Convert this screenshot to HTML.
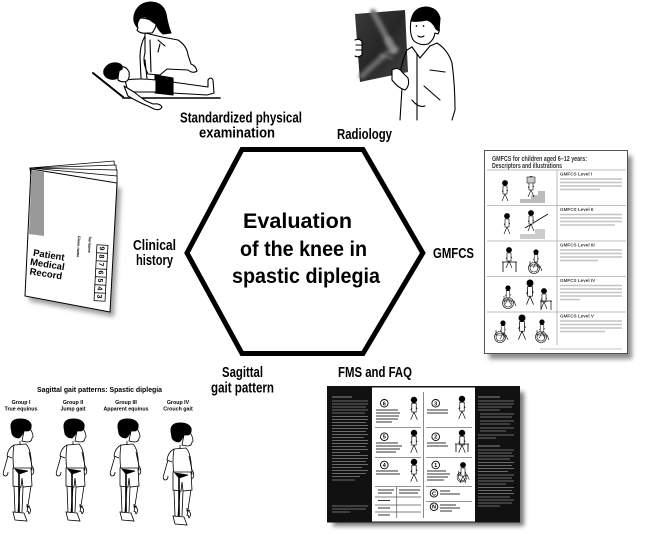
<!DOCTYPE html>
<html><head><meta charset="utf-8"><style>
html,body{margin:0;padding:0;background:#fff;}
svg{display:block}
text{font-family:"Liberation Sans Narrow","Liberation Sans",Arial,sans-serif;font-weight:bold;fill:#000;}
.t{font-family:"Liberation Sans",Arial,sans-serif;}
</style></head><body>
<svg width="647" height="534" viewBox="0 0 647 534" xmlns="http://www.w3.org/2000/svg">
<defs>
<filter id="sh" x="-20%" y="-20%" width="140%" height="140%"><feGaussianBlur stdDeviation="2.5"/></filter>
<filter id="bl" x="-20%" y="-20%" width="140%" height="140%"><feGaussianBlur stdDeviation="1.5"/></filter>
<linearGradient id="xr" x1="0" y1="0" x2="1" y2="1">
<stop offset="0" stop-color="#3a3a3a"/><stop offset="0.5" stop-color="#262626"/><stop offset="1" stop-color="#444"/>
</linearGradient>
<g id="boy" fill="none" stroke="#000" stroke-width="0.8">
<path d="M24,431 Q29,428 31,430 Q33,434 33,437 L32,438 Q32,442 27,442 L22,441 Z" fill="#fff"/>
<path d="M11,428 Q10,420 18,419 Q28,418 31,424 Q32,430 28,431 L24,431 Q22,436 19,438 Q14,438 12,434 Z" fill="#000"/>
<path d="M20,441 L20,445"/>
<path d="M14,445 L26,444 Q30,448 31,458 L32,470 L14,470 Q12,458 14,445 Z" fill="#fff"/>
<path d="M14,445 Q8,448 7,456 L12,458"/>
<path d="M8,456 L4,470 Q2,475 5,476 Q8,476 8,472"/>
<path d="M29,452 L32,466 Q35,470 33,474 Q31,475 30,471"/>
<path d="M13,468 L31,468 L32,486 L23,487 L22,478 L21,487 L13,486 Z" fill="#fff"/>
<polygon points="15,469 28,471 19,474" fill="#000"/>
<path d="M14,486 L15,512 M20,487 L18,512 M23,487 L22,512 M31,486 L27,512"/>
<path d="M19,471 L19,512" stroke-width="1.6"/>
<path d="M13,512 L15,520 L27,521 L24,513 Z" fill="#fff"/>
<path d="M27,506 Q33,509 29,514 M27,504 L27,507 L30,506 M29,514 L28,511"/>
</g>
<g id="kid" fill="none" stroke="#000" stroke-width="0.6">
<circle cx="0" cy="0" r="2.6" fill="#000"/>
<path d="M0,2.5 L0,11 M0,4 L-3,9 M0,4 L3,8 M0,11 L-3,18 M0,11 L3,18" />
<path d="M-2,3 L2,3 L2,11 L-2,11 Z" fill="#fff"/>
</g>
<g id="wc" fill="none" stroke="#000" stroke-width="0.6">
<circle cx="0" cy="0" r="5.5"/><circle cx="0" cy="0" r="4"/>
<path d="M-4,-7 L-4,-2 L6,-2 L8,3"/>
</g>
</defs>

<!-- ===== Hexagon ===== -->
<polygon points="242,149.5 363,149.5 422.8,253 363,353.5 242,353.5 187,253" fill="#fff" stroke="#000" stroke-width="5" stroke-linejoin="miter"/>
<text x="243" y="228" font-size="21" textLength="109" lengthAdjust="spacingAndGlyphs">Evaluation</text>
<text x="240" y="256" font-size="21" textLength="127" lengthAdjust="spacingAndGlyphs">of the knee in</text>
<text x="232" y="283" font-size="21" textLength="148" lengthAdjust="spacingAndGlyphs">spastic diplegia</text>

<!-- ===== Labels ===== -->
<text x="180" y="122.5" font-size="14.5" textLength="122" lengthAdjust="spacingAndGlyphs">Standardized physical</text>
<text x="199" y="137.5" font-size="14.5" textLength="76" lengthAdjust="spacingAndGlyphs">examination</text>
<text x="337" y="139" font-size="14.5" textLength="55" lengthAdjust="spacingAndGlyphs">Radiology</text>
<text x="133" y="250" font-size="14.5" textLength="43" lengthAdjust="spacingAndGlyphs">Clinical</text>
<text x="136" y="265" font-size="14.5" textLength="37" lengthAdjust="spacingAndGlyphs">history</text>
<text x="433" y="258" font-size="14.5" textLength="41" lengthAdjust="spacingAndGlyphs">GMFCS</text>
<text x="222" y="377" font-size="14.5" textLength="41" lengthAdjust="spacingAndGlyphs">Sagittal</text>
<text x="211" y="392.5" font-size="14.5" textLength="63" lengthAdjust="spacingAndGlyphs">gait pattern</text>
<text x="338" y="377" font-size="14.5" textLength="74" lengthAdjust="spacingAndGlyphs">FMS and FAQ</text>

<!-- ===== Physical exam illustration ===== -->
<g fill="none" stroke="#000" stroke-width="1.1" stroke-linejoin="round" stroke-linecap="round">
<path d="M93,73 L123,97" stroke-width="2"/>
<path d="M123,98 L220,98" stroke-width="1.6"/>
<path d="M145,33 L162,37 L178,40 Q187,46 188,55 L191,64 Q196,66 197,71 Q193,74 188,70 L167,69 L160,75 L148,74 Q142,62 145,53 Z" fill="#fff"/>
<path d="M145,36 Q140,45 140,57 L141,78 Q139,84 143,88 Q148,89 150,85 L147,79 L145,60"/>
<path d="M150,40 L151,72 M158,40 L165,46 M160,44 L158,52"/>
<path d="M140,18 Q136,24 138,28 L137,30 Q140,34 147,33 L152,33 Q156,28 156,24 Q150,18 140,18 Z" fill="#fff"/>
<path d="M134,16 Q137,3 150,2 Q163,2 166,14 Q168,26 171,33 L163,34 Q158,30 156,24 L150,20 Q145,15 140,18 Q137,22 137,27 Q133,22 134,16 Z" fill="#000"/>
<path d="M172,82 L208,87 L208,80 Q211,76 213,80 L214,93 L207,95 L172,93" fill="#fff"/>
<path d="M155,75 L173,78 L173,95 L155,93 Z" fill="#000"/>
<path d="M125,80 Q140,78 156,80 L156,92 Q140,92 128,92 Z" fill="#fff"/>
<path d="M124,86 L134,92 Q140,97 146,101 L153,104 Q160,103 162,107 Q160,111 154,109 L148,106 Q138,102 128,96 Z" fill="#fff"/>
<path d="M118,67 Q126,65 129,72 Q130,78 127,81 Q122,83 118,80 Z" fill="#fff"/>
<path d="M104,70 Q108,62 117,63 Q123,64 122,69 L119,71 L118,78 Q112,81 106,77 Q103,74 104,70 Z" fill="#000"/>
</g>

<!-- ===== Radiology illustration ===== -->
<g>
<polygon points="355,14 405,10 408,72 360,82" fill="url(#xr)"/>
<g filter="url(#bl)" fill="none" stroke-linecap="round">
<path d="M373,12 Q380,25 388,40" stroke="#707070" stroke-width="6"/>
<path d="M388,40 Q392,48 394,50" stroke="#858585" stroke-width="8"/>
<path d="M384,56 Q372,66 362,76" stroke="#666" stroke-width="6"/>
<path d="M386,52 Q393,54 398,48" stroke="#999" stroke-width="1.5"/>
<path d="M380,55 L392,58" stroke="#8a8a8a" stroke-width="1.5"/>
</g>
<g fill="none" stroke="#000" stroke-width="1.1" stroke-linejoin="round" stroke-linecap="round">
<path d="M355,40 Q360,38 362,42 L362,55 Q358,58 355,56" fill="#fff"/>
<path d="M356,45 L361,45 M356,50 L361,50"/>
<path d="M407,50 L412,47 L420,52 L430,46 L437,43 Q448,50 452,63 Q455,85 455,110 L452,120 M407,50 Q402,60 400,75 M402,88 L400,120 M417,53 L417,120 M430,70 L445,72 M424,86 L440,100 M412,100 Q418,108 425,106"/>
<path d="M412,47 L420,58 L430,46" fill="#fff"/>
<path d="M392,70 Q398,66 402,72 L408,78 Q410,86 405,90 Q398,88 392,80 Z" fill="#fff"/>
<path d="M411,20 Q409,35 414,41 Q420,46 428,44 Q434,40 435,33 L438,34 Q441,29 437,26 L437,20 Z" fill="#fff"/>
<path d="M411,21 Q413,8 425,7 Q437,7 440,18 L439,31 L436,29 Q433,22 427,20 Q418,22 411,21 Z" fill="#000"/>
<path d="M418,36 Q421,38 424,36"/>
</g>
<circle cx="416.5" cy="26" r="0.9"/><circle cx="423.5" cy="26" r="0.9"/>
</g>

<!-- ===== Patient record booklet ===== -->
<polygon points="35,174 121,188 114,317 29,301" fill="#777" filter="url(#sh)" opacity="0.7"/>
<g fill="#fff" stroke="#000" stroke-width="0.8">
<polygon points="30,168 114,161 116,186 31,175"/>
<polygon points="30,168 116,165 117,186 31,175"/>
<polygon points="30,168 117,170 117,186 31,175"/>
<polygon points="30,168 117,176 117,186 31,175"/>
<polygon points="31,169 117,183 110,312 25,296" stroke-width="1"/>
</g>
<polygon points="31.5,170 44,172 44,236 29,234" fill="#999"/>
<g transform="rotate(9,47,267)">
<text x="47" y="258" font-size="9.5" text-anchor="middle">Patient</text>
<text x="47" y="267.5" font-size="9.5" text-anchor="middle">Medical</text>
<text x="47" y="277" font-size="9.5" text-anchor="middle">Record</text>
</g>
<g transform="rotate(93,82,252)">
<text x="66" y="246" font-size="3.8">Surname</text>
<text x="66" y="257" font-size="3.8">Given name</text>
</g>
<g transform="rotate(3,101,273)">
<rect x="95.5" y="245" width="11" height="56" fill="#fff" stroke="#000" stroke-width="0.8"/>
<path d="M95.5,253 H106.5 M95.5,261 H106.5 M95.5,269 H106.5 M95.5,277 H106.5 M95.5,285 H106.5 M95.5,293 H106.5" stroke="#000" stroke-width="0.8"/>
<g font-size="7">
<text transform="translate(98.5,246.5) rotate(90)">9</text>
<text transform="translate(98.5,254.5) rotate(90)">8</text>
<text transform="translate(98.5,262.5) rotate(90)">7</text>
<text transform="translate(98.5,270.5) rotate(90)">6</text>
<text transform="translate(98.5,278.5) rotate(90)">5</text>
<text transform="translate(98.5,286.5) rotate(90)">4</text>
<text transform="translate(98.5,294.5) rotate(90)">3</text>
</g>
</g>

<!-- ===== GMFCS document ===== -->
<rect x="489" y="156" width="143" height="203" fill="#666" filter="url(#sh)" opacity="0.75"/>
<rect x="484.5" y="150.5" width="143" height="203" fill="#fff" stroke="#444" stroke-width="0.9"/>
<text class="t" x="492" y="161" font-size="7" textLength="95" lengthAdjust="spacingAndGlyphs" style="fill:#333">GMFCS for children aged 6–12 years:</text>
<text class="t" x="492" y="168" font-size="7" textLength="70" lengthAdjust="spacingAndGlyphs" style="fill:#333">Descriptors and illustrations</text>
<g stroke="#aaa" stroke-width="0.8">
<path d="M487,170 H626 M487,205.5 H626 M487,241 H626 M487,276.5 H626 M487,312 H626 M557,170 V345"/>
</g>
<text class="t" x="560" y="175.5" font-size="4.6" style="fill:#444">GMFCS Level I</text>
<text class="t" x="560" y="211" font-size="4.6" style="fill:#444">GMFCS Level II</text>
<text class="t" x="560" y="246.5" font-size="4.6" style="fill:#444">GMFCS Level III</text>
<text class="t" x="560" y="282" font-size="4.6" style="fill:#444">GMFCS Level IV</text>
<text class="t" x="560" y="317.5" font-size="4.6" style="fill:#444">GMFCS Level V</text>
<g stroke="#c4c4c4" stroke-width="1.5">
<path d="M560,179 H622 M560,182.5 H622 M560,186 H622 M560,189.5 H600"/>
<path d="M560,214.5 H622 M560,218 H622 M560,221.5 H622 M560,225 H615"/>
<path d="M560,250 H622 M560,253.5 H622 M560,257 H622 M560,260.5 H598"/>
<path d="M560,285.5 H622 M560,289 H622 M560,292.5 H622 M560,296 H622 M560,299.5 H580"/>
<path d="M560,321 H622 M560,324.5 H622 M560,328 H622 M560,331.5 H605"/>
<path d="M540,349 H622" stroke-width="1"/>
</g>
<g>
<polygon points="520,203 545,203 545,191 538,191 538,195 531,195 531,199 520,199" fill="#bbb"/>
<use href="#kid" transform="translate(505,183)"/>
<use href="#kid" transform="translate(531,179)"/>
<rect x="527" y="177" width="8" height="6" fill="#ccc" stroke="#000" stroke-width="0.5"/>
<polygon points="520,239 545,239 545,229 535,229 535,234 520,234" fill="#ccc"/>
<path d="M525,228 L548,214" stroke="#000" stroke-width="0.8"/>
<use href="#kid" transform="translate(507,216)"/>
<use href="#kid" transform="translate(531,213)"/>
<use href="#kid" transform="translate(509,250)"/>
<path d="M502,262 H517 M503,262 V272 M516,262 V272" stroke="#000" stroke-width="0.8"/>
<use href="#wc" transform="translate(534,268)"/>
<use href="#kid" transform="translate(536,252) scale(0.9)"/>
<use href="#wc" transform="translate(508,303)"/>
<use href="#kid" transform="translate(508,288) scale(0.9)"/>
<use href="#kid" transform="translate(530,283) scale(1.2)"/>
<use href="#kid" transform="translate(544,291)"/>
<path d="M540,301 H552 M541,301 V310 M551,301 V310" stroke="#000" stroke-width="0.7"/>
<use href="#wc" transform="translate(500,337)"/>
<use href="#kid" transform="translate(503,323) scale(0.9)"/>
<use href="#kid" transform="translate(522,318) scale(1.2)"/>
<use href="#wc" transform="translate(541,337)"/>
<use href="#kid" transform="translate(542,322) scale(0.9)"/>
</g>

<!-- ===== FMS document ===== -->
<rect x="333" y="392" width="191" height="134" fill="#555" filter="url(#sh)" opacity="0.8"/>
<rect x="327" y="386" width="193" height="136.5" fill="#111"/>
<rect x="372" y="387.5" width="103" height="134" fill="#fff"/>
<g stroke="#6a6a6a" stroke-width="1">
<path d="M332,397 H352" stroke="#888"/>
<path d="M332,401 H368 M332,404 H368 M332,407 H366 M332,410 H368 M332,413 H365 M332,416.5 H368 M332,419.5 H368 M332,422.5 H366 M332,425.5 H368 M332,428.5 H368 M332,431.5 H366 M332,434.5 H368 M332,437.5 H364 M332,440.5 H368 M332,443.5 H368 M332,446.5 H366 M332,449.5 H368 M332,452.5 H360 M332,455.5 H368 M332,458.5 H368 M332,461.5 H366 M332,464.5 H368 M332,467.5 H362 M332,470.5 H368 M332,473.5 H366 M332,476.5 H360 M332,480 H355"/>
<path d="M332,506 H368 M332,509 H366 M332,512 H350"/>
<path d="M478,397 H500" stroke="#888"/>
<path d="M478,401 H514 M478,404 H514 M478,407 H512 M478,410 H500 M480,414 H514 M480,417 H512 M480,421 H514 M480,424 H510 M480,428 H514 M480,431 H506 M478,435 H514 M478,438 H496"/>
<path d="M478,446 H500" stroke="#888"/>
<path d="M478,450 H514 M478,453 H512 M478,456 H514 M478,459 H510 M478,462.5 H514 M478,465.5 H512 M478,468.5 H514 M478,471.5 H508 M478,475 H514 M478,478 H512 M478,481 H514 M478,484 H506 M478,487.5 H514 M478,490.5 H512 M478,493.5 H514 M478,497 H510 M478,500 H514 M478,503 H512 M478,506 H500"/>
</g>
<g stroke="#555" stroke-width="0.7" fill="none">
<path d="M423.5,392 V518"/>
<path d="M375,427.3 H421 M375,457.3 H421 M375,486.7 H421 M426,427.3 H472 M426,457.3 H472 M426,486.7 H472 M426,501.7 H472"/>
<path d="M396.7,487 V518 M375,497 H421 M375,505 H421 M375,512 H421"/>
</g>
<g stroke="#000" stroke-width="0.9" fill="#fff">
<circle cx="384.3" cy="403.3" r="3.8"/><circle cx="384.3" cy="436.7" r="3.8"/><circle cx="384.3" cy="465" r="3.8"/>
<circle cx="435.7" cy="403.3" r="3.8"/><circle cx="435.7" cy="436.7" r="3.8"/><circle cx="435.7" cy="465" r="3.8"/>
<circle cx="434" cy="493.3" r="3.8"/><circle cx="434" cy="506.7" r="3.8"/>
</g>
<text class="t" x="384.3" y="405.3" font-size="5.5" text-anchor="middle">6</text>
<text class="t" x="384.3" y="438.7" font-size="5.5" text-anchor="middle">5</text>
<text class="t" x="384.3" y="467" font-size="5.5" text-anchor="middle">4</text>
<text class="t" x="435.7" y="405.3" font-size="5.5" text-anchor="middle">3</text>
<text class="t" x="435.7" y="438.7" font-size="5.5" text-anchor="middle">2</text>
<text class="t" x="435.7" y="467" font-size="5.5" text-anchor="middle">1</text>
<text class="t" x="434" y="495.3" font-size="5.5" text-anchor="middle">C</text>
<text class="t" x="434" y="508.7" font-size="5.5" text-anchor="middle">N</text>
<g stroke="#333" stroke-width="0.9">
<path d="M376,410 H398 M376,413 H400 M376,416 H399 M376,419 H398 M376,422 H392"/>
<path d="M376,443 H398 M376,446 H402 M376,449 H400 M376,452 H396"/>
<path d="M376,471 H398 M376,474 H400"/>
<path d="M427,410 H448 M427,413 H448"/>
<path d="M427,443 H446 M427,446 H448"/>
<path d="M427,471 H446 M427,474 H450 M427,477 H448 M427,480 H444"/>
<path d="M440,491 H450 M440,494 H460"/>
<path d="M440,505 H456 M440,508 H460 M440,511 H452"/>
<path d="M378,490 H394 M378,493 H392 M399,490 H420 M399,493 H418"/>
<path d="M378,500.5 H390 M378,508 H390 M378,515 H390"/>
</g>
<g>
<use href="#kid" transform="translate(414,400) scale(1.1)"/>
<use href="#kid" transform="translate(414,433) scale(1.1)"/>
<use href="#kid" transform="translate(414,462) scale(1.1)"/>
<use href="#kid" transform="translate(462,399) scale(1.1)"/>
<use href="#kid" transform="translate(462,433) scale(1.1)"/>
<path d="M455,444 H469 M456,444 V452 M468,444 V452" stroke="#000" stroke-width="0.8"/>
<use href="#wc" transform="translate(462,477) scale(0.9)"/>
<use href="#kid" transform="translate(463,465)"/>
</g>

<!-- ===== Gait patterns ===== -->
<text x="37" y="392" font-size="7.2" textLength="125" lengthAdjust="spacingAndGlyphs">Sagittal gait patterns: Spastic diplegia</text>
<text x="21" y="404" font-size="5.3" text-anchor="middle">Group I</text>
<text x="21" y="410.5" font-size="5.3" text-anchor="middle">True equinus</text>
<text x="73" y="404" font-size="5.3" text-anchor="middle">Group II</text>
<text x="73" y="410.5" font-size="5.3" text-anchor="middle">Jump gait</text>
<text x="126" y="404" font-size="5.3" text-anchor="middle">Group III</text>
<text x="126" y="410.5" font-size="5.3" text-anchor="middle">Apparent equinus</text>
<text x="178" y="404" font-size="5.3" text-anchor="middle">Group IV</text>
<text x="178" y="410.5" font-size="5.3" text-anchor="middle">Crouch gait</text>
<use href="#boy"/>
<use href="#boy" transform="translate(53,0)"/>
<use href="#boy" transform="translate(107,0)"/>
<use href="#boy" transform="translate(160,4)"/>
</svg>
</body></html>
